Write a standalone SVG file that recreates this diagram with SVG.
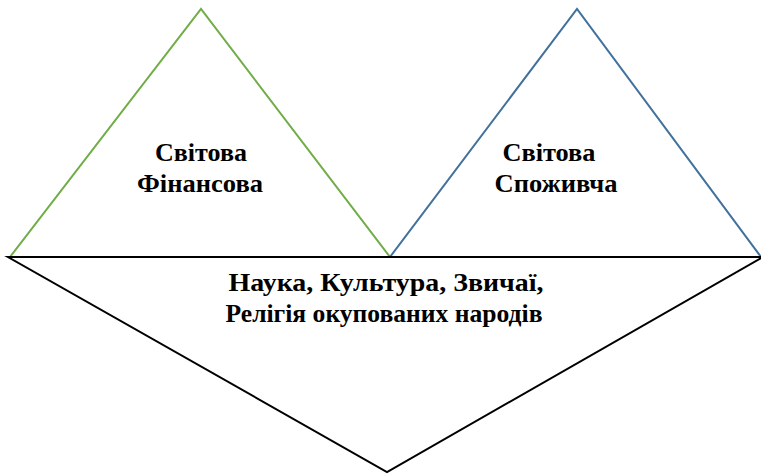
<svg xmlns="http://www.w3.org/2000/svg" width="761" height="475" viewBox="0 0 761 475">
<style>
.t{font-family:"Liberation Serif","Times New Roman",serif;font-weight:bold;font-size:25px;fill:#000;text-anchor:middle}
.s{fill:none;stroke-width:2;stroke-linejoin:miter}
</style>
<rect width="761" height="475" fill="#fff"/>
<g id="finance">
<polygon class="s" points="10,257 201,9 390,257" stroke="#70AD47"/>
<text class="t" x="201" y="161" textLength="92" lengthAdjust="spacingAndGlyphs">Світова</text>
<text class="t" x="200" y="192" textLength="126" lengthAdjust="spacingAndGlyphs">Фінансова</text>
</g>
<g id="consumer">
<polygon class="s" points="390,257 577,9 761,257" stroke="#41719C"/>
<text class="t" x="549" y="161" textLength="93" lengthAdjust="spacingAndGlyphs">Світова</text>
<text class="t" x="556" y="192" textLength="123" lengthAdjust="spacingAndGlyphs">Споживча</text>
</g>
<g id="base">
<polygon class="s" points="8,257 763,257 387,472" stroke="#000"/>
<text class="t" x="386" y="291" textLength="315" lengthAdjust="spacingAndGlyphs">Наука, Культура, Звичаї,</text>
<text class="t" x="384" y="322" textLength="317" lengthAdjust="spacingAndGlyphs">Релігія окупованих народів</text>
</g>
<g id="connectors"></g>
</svg>
